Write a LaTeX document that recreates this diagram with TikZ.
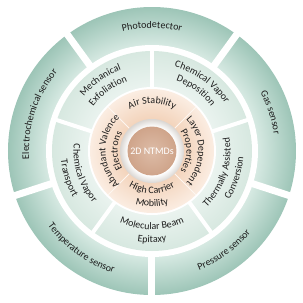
\documentclass[tikz,border=0pt]{standalone}
\usepackage{fontspec}
\setmainfont{Carlito}
\usetikzlibrary{decorations.text}

\definecolor{ringdark}{HTML}{9DC5B7}
\definecolor{ringlight}{HTML}{D6E9E2}
\definecolor{methoddark}{HTML}{D7E8E0}
\definecolor{methodlight}{HTML}{EAF3EF}
\definecolor{propdark}{HTML}{F3D4BC}
\definecolor{proplight}{HTML}{FBEDE2}
\definecolor{coredark}{HTML}{CFA48A}
\definecolor{corelight}{HTML}{DDBCA7}
\definecolor{halodark}{HTML}{DAD6D2}
\definecolor{labelcol}{HTML}{1C1C1C}

\newcommand{\labelfont}{\fontsize{10}{12}\selectfont}

% radial fills, 25bp = radius of the shaded disc
\pgfdeclareradialshading{appshade}{\pgfpoint{0bp}{0bp}}{color(0bp)=(ringlight); color(18.4bp)=(ringlight); color(25bp)=(ringdark); color(50bp)=(ringdark)}
\pgfdeclareradialshading{methodshade}{\pgfpoint{0bp}{0bp}}{color(0bp)=(methodlight); color(16bp)=(methodlight); color(25bp)=(methoddark); color(50bp)=(methoddark)}
\pgfdeclareradialshading{propshade}{\pgfpoint{0bp}{0bp}}{color(0bp)=(propdark); color(13bp)=(propdark); color(25bp)=(proplight); color(50bp)=(proplight)}
\pgfdeclareradialshading{haloshade}{\pgfpoint{0bp}{0bp}}{color(0bp)=(white); color(19bp)=(white); color(25bp)=(halodark); color(50bp)=(halodark)}
\pgfdeclareradialshading{coreshade}{\pgfpoint{0bp}{0bp}}{color(0bp)=(corelight); color(25bp)=(coredark); color(50bp)=(coredark)}

\tikzset{
  arclabel/.style={decorate, decoration={text along path, text align=center, text color=labelcol, text={|\labelfont|#1}}},
  gap/.style={white, line width=#1},
}

\begin{document}
\begin{tikzpicture}[x=1pt, y=1pt]
\useasboundingbox (-152,-152) rectangle (151,151);

% outer ring: applications
\shade[shading=appshade] (0,0) circle (144);
\fill[white] (0,0) circle (106);
\foreach \a in {126,54,-18,-90,-162}
  \draw[gap=7] (\a:100) -- (\a:150);

% middle ring: synthesis
\shade[shading=methodshade] (0,0) circle (100);
\fill[white] (0,0) circle (64);
\foreach \a in {90,18,-54,-126,162}
  \draw[gap=4] (\a:62) -- (\a:102);

% inner ring: properties
\shade[shading=propshade] (0,0) circle (62);
\foreach \a in {45,135,225,315}
  \draw[proplight!50!white, line width=0.8] (\a:32) -- (\a:62);
\shade[shading=haloshade] (0,0) circle (32);
\shade[shading=coreshade] (0,0) circle (24.5);
\node[text=white, font=\labelfont] (core) at (0,0) {2D NTMDs};

% outer labels
\path[arclabel={Photodetector}] (130:123) arc[start angle=130, end angle=50, radius=123];
\path[arclabel={Gas sensor}] (58:123) arc[start angle=58, end angle=-22, radius=123];
\path[arclabel={Electrochemical sensor}] (202:123) arc[start angle=202, end angle=122, radius=123];
\path[arclabel={Pressure sensor}] (-94:128) arc[start angle=-94, end angle=-14, radius=128];
\path[arclabel={Temperature sensor}] (-166:128) arc[start angle=-166, end angle=-86, radius=128];

% middle labels
\path[arclabel={Mechanical}] (176:87) arc[start angle=176, end angle=76, radius=87];
\path[arclabel={Exfoliation}] (176:74) arc[start angle=176, end angle=76, radius=74];
\path[arclabel={Chemical Vapor}] (104:87) arc[start angle=104, end angle=4, radius=87];
\path[arclabel={Deposition}] (104:74) arc[start angle=104, end angle=4, radius=74];
\path[arclabel={Thermally Assisted}] (-68:78.5) arc[start angle=-68, end angle=32, radius=78.5];
\path[arclabel={Conversion}] (-68:91.5) arc[start angle=-68, end angle=32, radius=91.5];
\path[arclabel={Molecular Beam}] (-140:78.5) arc[start angle=-140, end angle=-40, radius=78.5];
\path[arclabel={Epitaxy}] (-140:91.5) arc[start angle=-140, end angle=-40, radius=91.5];
\path[arclabel={Chemical Vapor}] (148:78.5) arc[start angle=148, end angle=248, radius=78.5];
\path[arclabel={Transport}] (148:91.5) arc[start angle=148, end angle=248, radius=91.5];

% inner labels
\path[arclabel={Air Stability}] (150:47.5) arc[start angle=150, end angle=30, radius=47.5];
\path[arclabel={Layer Dependent}] (60:46.5) arc[start angle=60, end angle=-60, radius=46.5];
\path[arclabel={Properties}] (60:34.5) arc[start angle=60, end angle=-60, radius=34.5];
\path[arclabel={Abundant Valence}] (240:46.5) arc[start angle=240, end angle=120, radius=46.5];
\path[arclabel={Electrons}] (240:34.5) arc[start angle=240, end angle=120, radius=34.5];
\path[arclabel={High Carrier}] (-150:42.5) arc[start angle=-150, end angle=-30, radius=42.5];
\path[arclabel={Mobility}] (-150:55.5) arc[start angle=-150, end angle=-30, radius=55.5];
\end{tikzpicture}
\end{document}
